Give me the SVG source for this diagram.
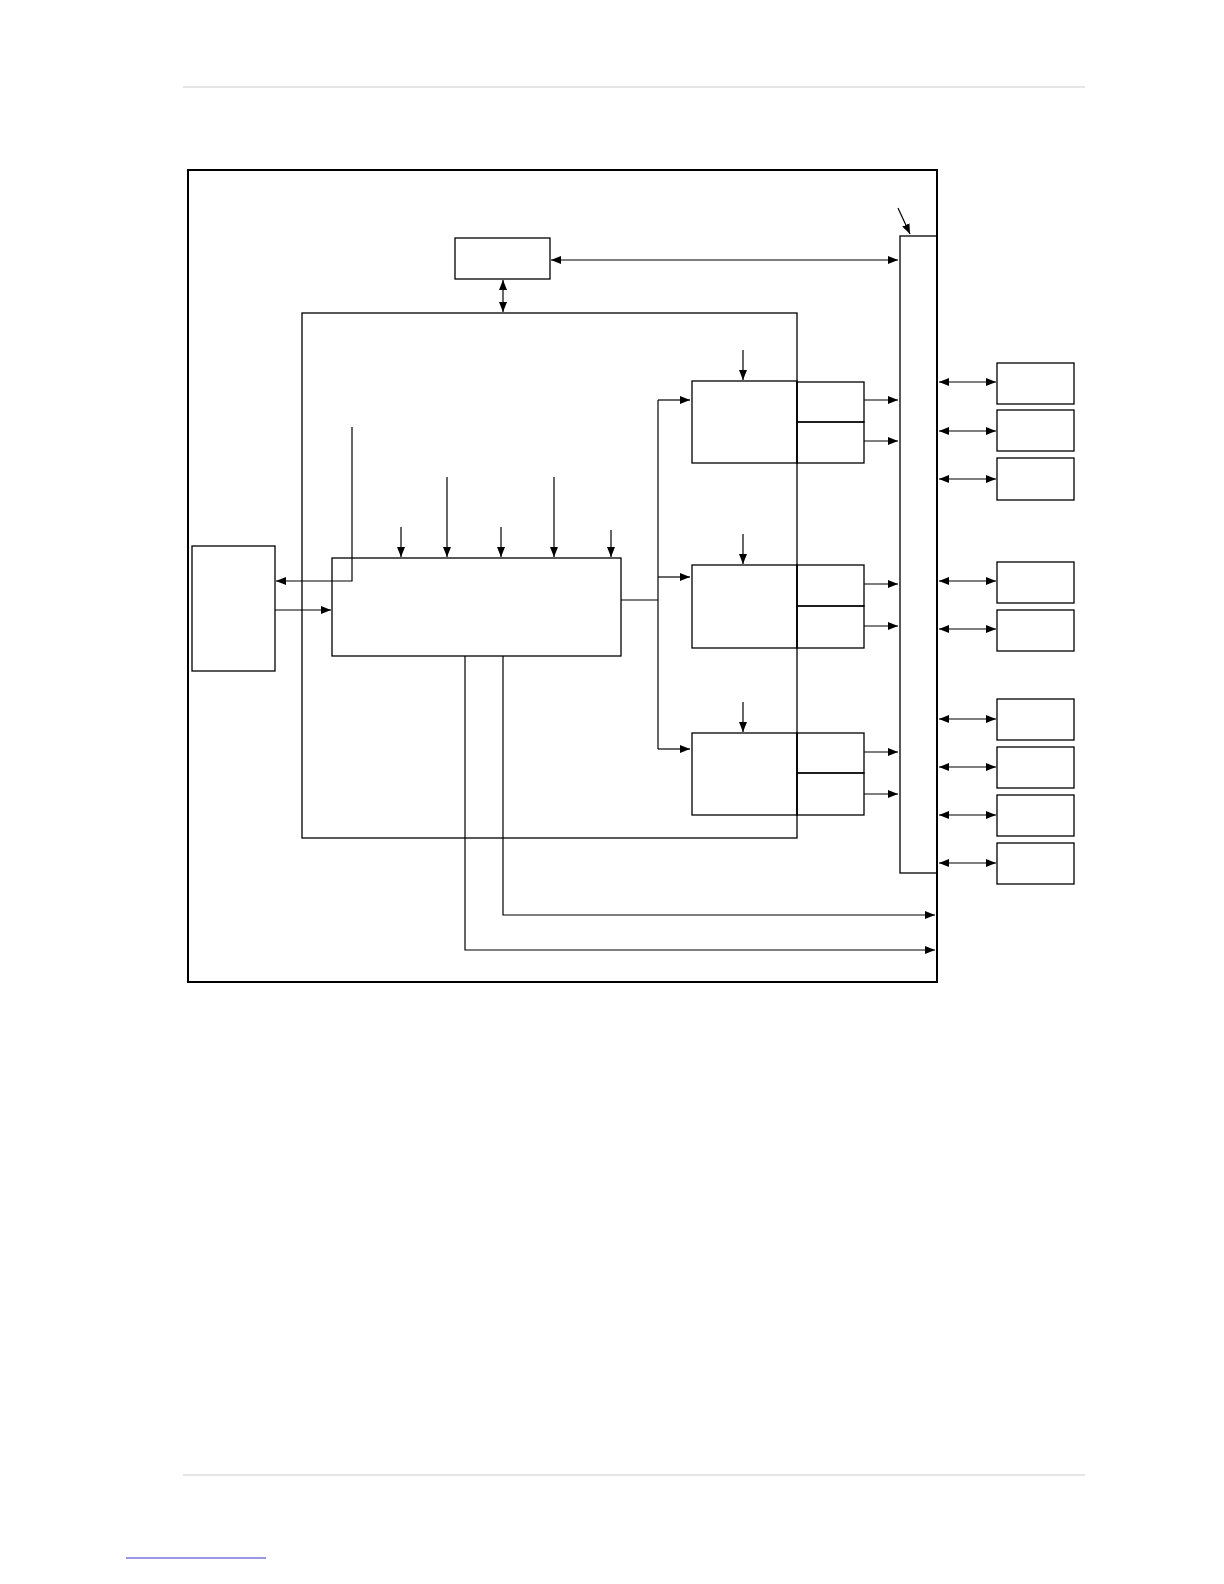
<svg xmlns="http://www.w3.org/2000/svg" width="1224" height="1584" viewBox="0 0 1224 1584">
<style>
.b{fill:none;stroke:#000;stroke-width:1.3}
.c{fill:none;stroke:#000;stroke-width:1.2}
.a{marker-end:url(#ah)}
.d{marker-start:url(#as);marker-end:url(#ah)}
</style>
<defs>
<marker id="ah" viewBox="0 0 10 8" refX="10" refY="4" markerWidth="10" markerHeight="8" markerUnits="userSpaceOnUse" orient="auto"><path d="M0,0L10,4L0,8z" fill="#000"/></marker>
<marker id="as" viewBox="0 0 10 8" refX="0" refY="4" markerWidth="10" markerHeight="8" markerUnits="userSpaceOnUse" orient="auto"><path d="M10,0L0,4L10,8z" fill="#000"/></marker>
</defs>
<rect width="1224" height="1584" fill="#fff"/>
<line x1="183" y1="87" x2="1085" y2="87" stroke="#ccc" stroke-width="1"/>
<line x1="183" y1="1475" x2="1085" y2="1475" stroke="#ccc" stroke-width="1"/>
<line x1="126" y1="1558" x2="266" y2="1558" stroke="#33c" stroke-width="1"/>
<g id="frame"><rect x="188" y="170" width="749" height="812" fill="none" stroke="#000" stroke-width="2"/></g>
<g id="topbox"><rect class="b" x="455" y="238" width="95" height="41"/></g>
<g id="bus"><rect class="b" x="900" y="236" width="37" height="637"/></g>
<g id="bigbox"><rect class="b" x="302" y="313" width="495" height="525"/></g>
<g id="leftbox"><rect class="b" x="192" y="546" width="83" height="125"/></g>
<g id="central"><rect class="b" x="332" y="558" width="289" height="98"/></g>
<g id="unit1"><rect class="b" x="692" y="381" width="105" height="82"/><rect class="b" x="797" y="382" width="67" height="40"/><rect class="b" x="797" y="422" width="67" height="41"/></g>
<g id="unit2"><rect class="b" x="692" y="565" width="105" height="83"/><rect class="b" x="797" y="565" width="67" height="41"/><rect class="b" x="797" y="606" width="67" height="42"/></g>
<g id="unit3"><rect class="b" x="692" y="733" width="105" height="82"/><rect class="b" x="797" y="733" width="67" height="40"/><rect class="b" x="797" y="773" width="67" height="42"/></g>
<g id="r1"><rect class="b" x="997" y="363" width="77" height="41"/></g>
<g id="r2"><rect class="b" x="997" y="410" width="77" height="41"/></g>
<g id="r3"><rect class="b" x="997" y="458" width="77" height="42"/></g>
<g id="r4"><rect class="b" x="997" y="562" width="77" height="41"/></g>
<g id="r5"><rect class="b" x="997" y="610" width="77" height="41"/></g>
<g id="r6"><rect class="b" x="997" y="699" width="77" height="41"/></g>
<g id="r7"><rect class="b" x="997" y="747" width="77" height="41"/></g>
<g id="r8"><rect class="b" x="997" y="795" width="77" height="41"/></g>
<g id="r9"><rect class="b" x="997" y="843" width="77" height="41"/></g>
<g id="connectors">
<line class="c a" x1="898" y1="208" x2="910" y2="234"/>
<line class="c d" x1="551" y1="260" x2="898" y2="260"/>
<line class="c d" x1="503" y1="280" x2="503" y2="312"/>
<line class="c a" x1="401" y1="527" x2="401" y2="557"/>
<line class="c a" x1="447" y1="477" x2="447" y2="557"/>
<line class="c a" x1="501" y1="527" x2="501" y2="557"/>
<line class="c a" x1="554" y1="477" x2="554" y2="557"/>
<line class="c a" x1="611" y1="530" x2="611" y2="557"/>
<polyline class="c a" points="352,427 352,581 276,581"/>
<line class="c a" x1="275" y1="610" x2="331" y2="610"/>
<line class="c" x1="621" y1="600" x2="658" y2="600"/>
<line class="c" x1="658" y1="400" x2="658" y2="749"/>
<line class="c a" x1="658" y1="400" x2="690" y2="400"/>
<line class="c a" x1="658" y1="577" x2="690" y2="577"/>
<line class="c a" x1="658" y1="749" x2="690" y2="749"/>
<line class="c a" x1="743" y1="350" x2="743" y2="380"/>
<line class="c a" x1="743" y1="534" x2="743" y2="564"/>
<line class="c a" x1="743" y1="702" x2="743" y2="732"/>
<line class="c a" x1="864" y1="400" x2="898" y2="400"/>
<line class="c a" x1="864" y1="441" x2="898" y2="441"/>
<line class="c a" x1="864" y1="584" x2="898" y2="584"/>
<line class="c a" x1="864" y1="626" x2="898" y2="626"/>
<line class="c a" x1="864" y1="752" x2="898" y2="752"/>
<line class="c a" x1="864" y1="794" x2="898" y2="794"/>
<line class="c d" x1="939" y1="382" x2="996" y2="382"/>
<line class="c d" x1="939" y1="431" x2="996" y2="431"/>
<line class="c d" x1="939" y1="479" x2="996" y2="479"/>
<line class="c d" x1="939" y1="581" x2="996" y2="581"/>
<line class="c d" x1="939" y1="629" x2="996" y2="629"/>
<line class="c d" x1="939" y1="719" x2="996" y2="719"/>
<line class="c d" x1="939" y1="767" x2="996" y2="767"/>
<line class="c d" x1="939" y1="815" x2="996" y2="815"/>
<line class="c d" x1="939" y1="863" x2="996" y2="863"/>
<polyline class="c a" points="503,656 503,915 935,915"/>
<polyline class="c a" points="465,656 465,950 935,950"/>
</g>
</svg>
